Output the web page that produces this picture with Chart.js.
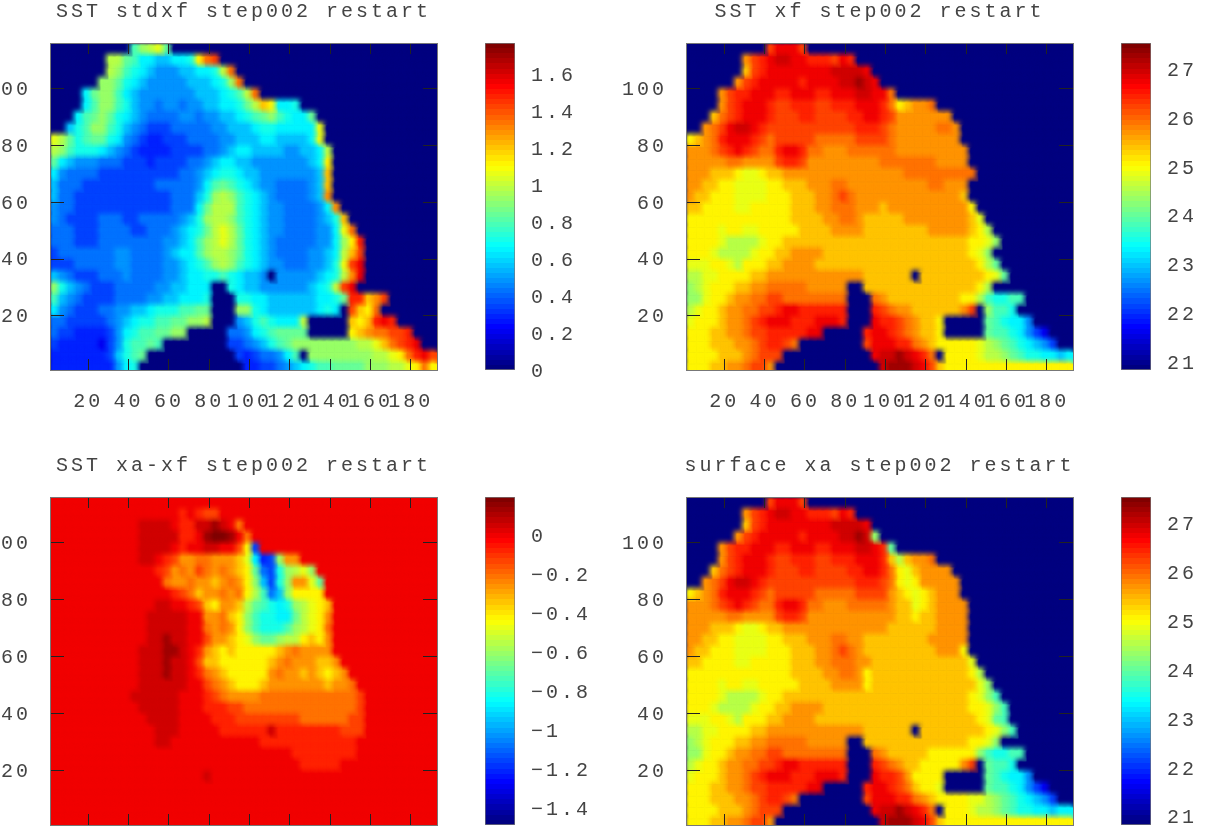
<!DOCTYPE html>
<html>
<head>
<meta charset="utf-8">
<title>SST step002 restart</title>
<script src="https://cdn.jsdelivr.net/npm/chart.js@4"></script>
<style>
html, body { margin: 0; padding: 0; background: #fff; overflow: hidden; width: 1221px; height: 839px; }
canvas { position: absolute; }
</style>
</head>
<body>
<canvas id="field1" width="567" height="432" style="left:-40px;top:-2px"></canvas>
<canvas id="field2" width="567" height="432" style="left:596px;top:-2px"></canvas>
<canvas id="field3" width="567" height="433" style="left:-40px;top:452px"></canvas>
<canvas id="field4" width="567" height="433" style="left:596px;top:452px"></canvas>
<canvas id="bar1" width="120" height="432" style="left:485px;top:-2px"></canvas>
<canvas id="bar2" width="100" height="432" style="left:1121px;top:-2px"></canvas>
<canvas id="bar3" width="120" height="433" style="left:485px;top:452px"></canvas>
<canvas id="bar4" width="100" height="433" style="left:1121px;top:452px"></canvas>
<script>
// axis ticks shared by the four maps
var xTicks = [20, 40, 60, 80, 100, 120, 140, 160, 180];
var yTicks = [20, 40, 60, 80, 100];

// colour bars
var stdxfRange = [0, 1.767];
var stdxfBarTicks = [0, 0.2, 0.4, 0.6, 0.8, 1, 1.2, 1.4, 1.6];
var stdxfBarLabels = ['0', '0.2', '0.4', '0.6', '0.8', '1', '1.2', '1.4', '1.6'];
var xfRange = [20.82, 27.53];
var xfBarTicks = [21, 22, 23, 24, 25, 26, 27];
var xfBarLabels = ['21', '22', '23', '24', '25', '26', '27'];
var diffRange = [-1.487, 0.195];
var diffBarTicks = [-1.4, -1.2, -1, -0.8, -0.6, -0.4, -0.2, 0];
var diffBarLabels = ['\u22121.4', '\u22121.2', '\u22121', '\u22120.8', '\u22120.6', '\u22120.4', '\u22120.2', '0'];

// fields, 4x4 grid cells, top row first.
// a..z = position in the colour range, '.' = land (bottom of the range)
var stdxfRows = [
'..........lnopm.................................',
'.......oomljjiijjkqtu...........................',
'.......onlkjihhhiijjkot.........................',
'......nnmkjihhhhhiiijknt........................',
'....jmnnljihhhhhhhiiijklot......................',
'....jlnnlkihhghhghhiijjkmorqjjk.................',
'...jlmnmkjihgggghhghhiijklmnlkjjm...............',
'..iklnnlkihgfffggggghhiiijkkjjjjjp..............',
'pomklmmkjhgfeefffgggghhiiijjiiiijp..............',
'onlkkkjihgfeeeeffffgghijjiiiihhiijo.............',
'mjihhhgggfffeffffgghijjiihhhhhhhijq.............',
'jhggggffffffffffgghijkkjiihhhhhhhir.............',
'igggfffffffffggggghjlmlkjihhgggghir.............',
'iggffffffffffffgggiknonlkjihgggghis.............',
'hggffffffffffffgggjmooolkjihhgggghjs............',
'hgffffgggffggggghiknoonlkjihhgggghikr...........',
'gggfffggggffggghijkmopomkjihhgggghhjpt..........',
'gggfffgggggggghhijlnopomkjihggggghhjnqv.........',
'fggggggghhgggghijjlnoonmkjihgggghhijoru.........',
'fffggggghhgggghhijklnonlkjihhggghhikpuw.........',
'ihgfffggghgggghhijjkklkjiih.hhhhhijkosw.........',
'nkihgfffggggghhiijjj..kjiihhhhhhijkouw..........',
'lihgffffgggghhiijjjk...kkjjiiiiiijjkmvvrsu......',
'jhgfffgghhiijkkkllmm...nnkjiiiiiijkj.urqt.......',
'ggfffffghijkkllmmnno...hiklkjjjo.....rqrvwv.....',
'gffeeeefhjkllmmnn.....gghjklmmmm.....qrsttuuv...',
'feeeeedfhkllml........ffghiklmnnnnnnnnooprtuvw..',
'eeeeeeefiklm...........fefgghjl.nnnnnnnnoopqtvwu',
'eeeeeeeehjk.............eeffghijkllmmmmnnnoopqtq'
];
var xfRows = [
'..........uwwwu.................................',
'.......suvwxxwwvvvuwv...........................',
'.......ruvwwwwwwwwxxxxw.........................',
'......suvwwwwwvwwwwxxyxw........................',
'....suvvwwwvvwwwvvwwwxxwwt......................',
'....suvwwwvuuvvvuuvvvwwwvtqrsst.................',
'...rtuvwwwvuuuvvuuuuvvwwvusssssss...............',
'..stuwxxwvuuuuuuuuuuuvvvutssssstts..............',
'qrstvwwwvutuuuuutttttuuuutssssssss..............',
'ssstuvwvuttvwwvttsssttttttsssssssss.............',
'sssssttssssuvvussssssssstttttttssss.............',
'sssrrrqppqrrsssssssssssssssttttttttt............',
'ssrrqqppppqqrrrsssttssssssssssttsss.............',
'srrqqqppppqqqrrrsstutsssssssssssssr.............',
'rrqqqqppqqqqqrrrsstttsssrssssssssssq............',
'qqqqqqqqqqqqqrrrrssttsrrrrrssssssssrp...........',
'qqqqpqqppqqqqqrrrrssssrrrrrrrrsssssrqo..........',
'qqqqpoooopqqrrrrrrrrrrrrrrrrrrrrrrrqqpn.........',
'qqqpoooopqqrrssssrrrrrrrrrrrrrrrrrrqpn..........',
'pppqqpoqqqrrssssrrrrrrrrrrrrrrrrrrrrqom.........',
'ooppqqqqrrssssssssssssrrrrrr.rrrrrrrrqpm........',
'nopqqqrrsstttttsssss..rrrrrrrrrrrrrrqo..........',
'nnpqqrssttuutttttttt...tsrrrrrrrrrqqolkkll......',
'opqqrssttuuvwwvvvvvv...vutssrrrrrrsu.nllk.......',
'pqqqrsstuvwwwvvvwwwv...wvvutsrrq.....mlkjjh.....',
'qqqrrsstuuvvvvvww.....vwwvutsrrq.....mllkjhfd...',
'qqqrrrsstuvvut........uwwwvvtsrqqqqqponmlkjihf..',
'qqqqrrrstuuu...........wxxyxwvt.qqqqpoonmlkkjjij',
'qqqrrsstuus.............xyyyxwurqqqqqqqqqqqqqqqq'
];
var diffRows = [
'wwwwwwwwwwwwwwwwwwwwwwwwwwwwwwwwwwwwwwwwwwwwwwww',
'wwwwwwwwwwwwwwwwvwvuuwwwwwwwwwwwwwwwwwwwwwwwwwww',
'wwwwwwwwwwwxxxxwvvxxyxwtwwwwwwwwwwwwwwwwwwwwwwww',
'wwwwwwwwwwwxxxxxvvwyzzywtwwwwwwwwwwwwwwwwwwwwwww',
'wwwwwwwwwwwxxxxwvwwxxwwuqfwwwwwwwwwwwwwwwwwwwwww',
'wwwwwwwwwwwxxwvussttsssrpjefnsswwwwwwwwwwwwwwwww',
'wwwwwwwwwwwwwvustsutstsrqmgfknopnwwwwwwwwwwwwwww',
'wwwwwwwwwwwwwwtsstssrstsqnifknsspmwwwwwwwwwwwwww',
'wwwwwwwwwwwwwwwvutrsststqolginqqqqwwwwwwwwwwwwww',
'wwwwwwwwwwwwwxxwwvurqssromlkjknopqrwwwwwwwwwwwww',
'wwwwwwwwwwwwxxxxxwwsstrqnlkkjjmopqswwwwwwwwwwwww',
'wwwwwwwwwwwwxxxxxwwtstsqnlkkklnopqtwwwwwwwwwwwww',
'wwwwwwwwwwwwxxyxxwwussrqpnmmnooqrqswwwwwwwwwwwww',
'wwwwwwwwwwwxxxyyxwvsrqrqqqqqrstsssswwwwwwwwwwwww',
'wwwwwwwwwwwxxxyxxwurrqqqqqqrstsssrrswwwwwwwwwwww',
'wwwwwwwwwwwxxxyxxwvtsrqqqqqstssrsrqrswwwwwwwwwww',
'wwwwwwwwwwwxxxxxxwwutsrqqqrsssssssrsstwwwwwwwwww',
'wwwwwwwwwwxxxxxxwwwvutssssttttttttttttuwwwwwwwww',
'wwwwwwwwwwwxxxxxwwwvvvuuttttttttttttttuwwwwwwwww',
'wwwwwwwwwwwwxxxxwwwwvvvuuuuuuuuttttttuuwwwwwwwww',
'wwwwwwwwwwwwwxxxwwwwwvvvvvvxvvvvvvvvuuuwwwwwwwww',
'wwwwwwwwwwwwwxxwwwwwwwwwwwvvvvvvvvvvvvwwwwwwwwww',
'wwwwwwwwwwwwwwwwwwwwwwwwwwwwwwvvvvvvvvwwwwwwwwww',
'wwwwwwwwwwwwwwwwwwwwwwwwwwwwwwwvvvvvwwwwwwwwwwww',
'wwwwwwwwwwwwwwwwwwwxwwwwwwwwwwwwwwwwwwwwwwwwwwww',
'wwwwwwwwwwwwwwwwwwwwwwwwwwwwwwwwwwwwwwwwwwwwwwww',
'wwwwwwwwwwwwwwwwwwwwwwwwwwwwwwwwwwwwwwwwwwwwwwww',
'wwwwwwwwwwwwwwwwwwwwwwwwwwwwwwwwwwwwwwwwwwwwwwww',
'wwwwwwwwwwwwwwwwwwwwwwwwwwwwwwwwwwwwwwwwwwwwwwww'
];
var xaRows = [
'..........uwwwu.................................',
'.......suvwxxwwvvvuwv...........................',
'.......ruvwwwwwwwwxxxxw.........................',
'......suvwwwwwvwwwwxxyxn........................',
'....suvvwwwvvwwwvvwwwxxwvm......................',
'....suvwwwvuuvvvuuvvvwwwvrorsst.................',
'...rtuvwwwvuuuvvuuuuvvwwvtqprssss...............',
'..stuwxxwvuuuuuuuuuuuvvvutqpqsssss..............',
'qrstvwwwvutuuuuutttttuuuusrqpqrsss..............',
'ssstuvwvuttvwwvttssstttttsrrpqrssss.............',
'sssssttssssuvvusssssssssssrrqrrssss.............',
'sssrrrqppqrrsssssssssssssrrrrrrssss.............',
'ssrrqqppppqqrrrsssttssrrrrrrrrsssss.............',
'srrqqqppppqqqrrrsstutsrrrrrrrrrsssq.............',
'rrqqqqppqqqqqrrrsstttssrrrrrrrrrrrrp............',
'qqqqqqqqqqqqqrrrrssttsqrrrrrrrrrrrrqo...........',
'qqqqpqqppqqqqqrrrrssssqrrrrrrrrrrrrrpn..........',
'qqqqpoooopqqrrrrrrrrrrrrrrrrrrrrrrrqpnl.........',
'qqqpoooopqqrrssssrrrrrrrrrrrrrrrrrrqqpnl........',
'pppqqpoqqqrrssssrrrrrrrrrrrrrrrrrrrrqpml........',
'ooppqqqqrrssssssssssssrrrrrr.rrrrrrrrqpnl.......',
'nopqqqrrsstttttsssss..rrrrrrrrrrrrrqqpn.........',
'nnpqqrssttuutttttttt...tsrrrrrqqqqqqnlkkll......',
'opqqrssttuuvwwvvvvvv...vutsrrqqqqqsu.mllk.......',
'pqqqrsstuvwwwvvvwwwv...wvvusqqqq.....mlkjjh.....',
'qqqrrsstuuvvvvvww.....vwwvutrqqp.....mllkjhfd...',
'qqqrrrsstuvvut........uwwwvvtsrqqqqpponmlkjihf..',
'qqqqrrrstuuu...........wxxyxwvt.qqqpoonmlkkjjijj',
'qqqrrsstuus.............xyyyxwurqqqqqqqqqqqqqqqq'
];

var inkColor = '#444';
var frameColor = '#777';
var tickColor = '#222';
var fontSpec = { family: '"Liberation Mono", monospace', size: 20, weight: 'normal' };
var feather = 5;

function jet(f) {
    var t = Math.min(63, Math.max(0, Math.floor(f * 64))) / 63;
    var ch = function (d) { return Math.round(255 * Math.min(1, Math.max(0, 1.5 - Math.abs(4 * t - d)))); };
    return 'rgb(' + ch(3) + ',' + ch(2) + ',' + ch(1) + ')';
}

// chart.js takes a canvas as point style, so each grid cell is a coloured tile.
// the soft rim runs over the cell drawn before it, which smooths the field
var tiles = {};
function tile(color, w, h) {
    var key = color + w + 'x' + h;
    if (!tiles[key]) {
        var c = document.createElement('canvas');
        c.width = w + 2 * feather + 6;
        c.height = h + 2 * feather + 6;
        var g = c.getContext('2d');
        g.fillStyle = color;
        g.filter = 'blur(' + feather / 2 + 'px)';
        g.fillRect(feather + 3, feather + 3, w, h);
        g.filter = 'none';
        g.fillRect(feather + 3 + feather / 2, feather + 3 + feather / 2, w, h);
        tiles[key] = c;
    }
    return tiles[key];
}

function rowsToPoints(rows, range) {
    var pts = [];
    rows.forEach(function (row, r) {
        for (var c = 0; c < row.length; c++) {
            var level = row[c] == '.' ? 0 : row.charCodeAt(c) - 97;
            pts.push({ x: 3 + 4 * c, y: 114 - 4 * r, v: range[0] + level / 25 * (range[1] - range[0]) });
        }
    });
    return pts;
}

var letterSpacing = {
    id: 'letterSpacing',
    beforeDraw: function (chart) { chart.ctx.letterSpacing = '3px'; }
};

// the first cell's colour under the field, for the soft rim along the top and left
var fieldBackground = {
    id: 'fieldBackground',
    beforeDatasetsDraw: function (chart) {
        var a = chart.chartArea;
        var first = chart.data.datasets[0].data[0];
        chart.ctx.save();
        chart.ctx.fillStyle = jet(first.f);
        chart.ctx.fillRect(a.left, a.top, a.width, a.height);
        chart.ctx.restore();
    }
};

function setWidth(w) { return function (scale) { scale.width = w; }; }
function setHeight(h) { return function (scale) { scale.height = h; }; }
function setTicks(list) {
    return function (scale) { scale.ticks = list.map(function (v) { return { value: v }; }); };
}

function axis(position, min, max, ticks, showLabels, tickLen, fit) {
    return {
        type: 'linear',
        position: position,
        min: min,
        max: max,
        afterBuildTicks: setTicks(ticks),
        afterFit: fit,
        grid: { drawOnChartArea: false, tickLength: tickLen, color: tickColor, z: 1 },
        border: { color: frameColor, z: 2 },
        ticks: {
            display: showLabels,
            maxRotation: 0,
            autoSkip: false,
            padding: position == 'left' ? 33 : 31,
            labelOffset: position == 'left' ? 1 : 0,
            color: inkColor,
            font: fontSpec
        }
    };
}

function drawField(id, title, rows, range, showX) {
    var points = rowsToPoints(rows, range);
    points.forEach(function (p) { p.f = (p.v - range[0]) / (range[1] - range[0]); });
    new Chart(document.getElementById(id), {
        type: 'scatter',
        data: {
            datasets: [{
                data: points,
                pointRadius: 1,
                pointStyle: function (ctx) {
                    var s = ctx.chart.scales;
                    var w = Math.ceil(s.x.getPixelForValue(5) - s.x.getPixelForValue(1));
                    var h = Math.ceil(s.y.getPixelForValue(1) - s.y.getPixelForValue(5));
                    return tile(jet(ctx.raw.f), w, h);
                }
            }]
        },
        plugins: [letterSpacing, fieldBackground],
        options: {
            responsive: false,
            animation: false,
            events: [],
            layout: { padding: 0 },
            plugins: {
                legend: { display: false },
                tooltip: { enabled: false },
                title: { display: true, text: title, color: inkColor, font: fontSpec, padding: { top: 2, bottom: 0 } }
            },
            scales: {
                x: axis('bottom', 1, 193, xTicks, showX, -11, setHeight(60)),
                x2: axis('top', 1, 193, xTicks, false, -11, setHeight(19)),
                y: axis('left', 1, 116, yTicks, true, -14, setWidth(90)),
                y2: axis('right', 1, 116, yTicks, false, -14, setWidth(90))
            }
        }
    });
}

function drawBar(id, range, ticks, labels) {
    new Chart(document.getElementById(id), {
        type: 'bar',
        data: {
            labels: [''],
            datasets: [{
                data: [range],
                barPercentage: 1,
                categoryPercentage: 1,
                borderWidth: 1,
                borderSkipped: false,
                borderColor: frameColor,
                backgroundColor: function (ctx) {
                    var a = ctx.chart.chartArea;
                    if (!a) return '#000';
                    var g = ctx.chart.ctx.createLinearGradient(0, a.bottom, 0, a.top);
                    for (var i = 0; i < 64; i++) {
                        g.addColorStop(i / 64, jet((i + 0.5) / 64));
                        g.addColorStop((i + 1) / 64, jet((i + 0.5) / 64));
                    }
                    return g;
                }
            }]
        },
        plugins: [letterSpacing],
        options: {
            responsive: false,
            animation: false,
            events: [],
            layout: { padding: { top: 45, bottom: 60 } },
            plugins: { legend: { display: false }, tooltip: { enabled: false } },
            scales: {
                x: { display: false },
                y: {
                    position: 'right',
                    min: range[0],
                    max: range[1],
                    afterBuildTicks: setTicks(ticks),
                    afterFit: function (scale) { scale.width = scale.chart.width - 30; },
                    grid: { display: false },
                    border: { display: false },
                    ticks: {
                        padding: 8,
                        labelOffset: 2,
                        color: inkColor,
                        font: fontSpec,
                        autoSkip: false,
                        callback: function (v) { return labels[ticks.indexOf(v)]; }
                    }
                }
            }
        }
    });
}

drawField('field1', 'SST stdxf step002 restart', stdxfRows, stdxfRange, true);
drawField('field2', 'SST xf step002 restart', xfRows, xfRange, true);
drawField('field3', 'SST xa-xf step002 restart', diffRows, diffRange, false);
drawField('field4', 'surface xa step002 restart', xaRows, xfRange, false);

drawBar('bar1', stdxfRange, stdxfBarTicks, stdxfBarLabels);
drawBar('bar2', xfRange, xfBarTicks, xfBarLabels);
drawBar('bar3', diffRange, diffBarTicks, diffBarLabels);
drawBar('bar4', xfRange, xfBarTicks, xfBarLabels);
</script>
</body>
</html>
